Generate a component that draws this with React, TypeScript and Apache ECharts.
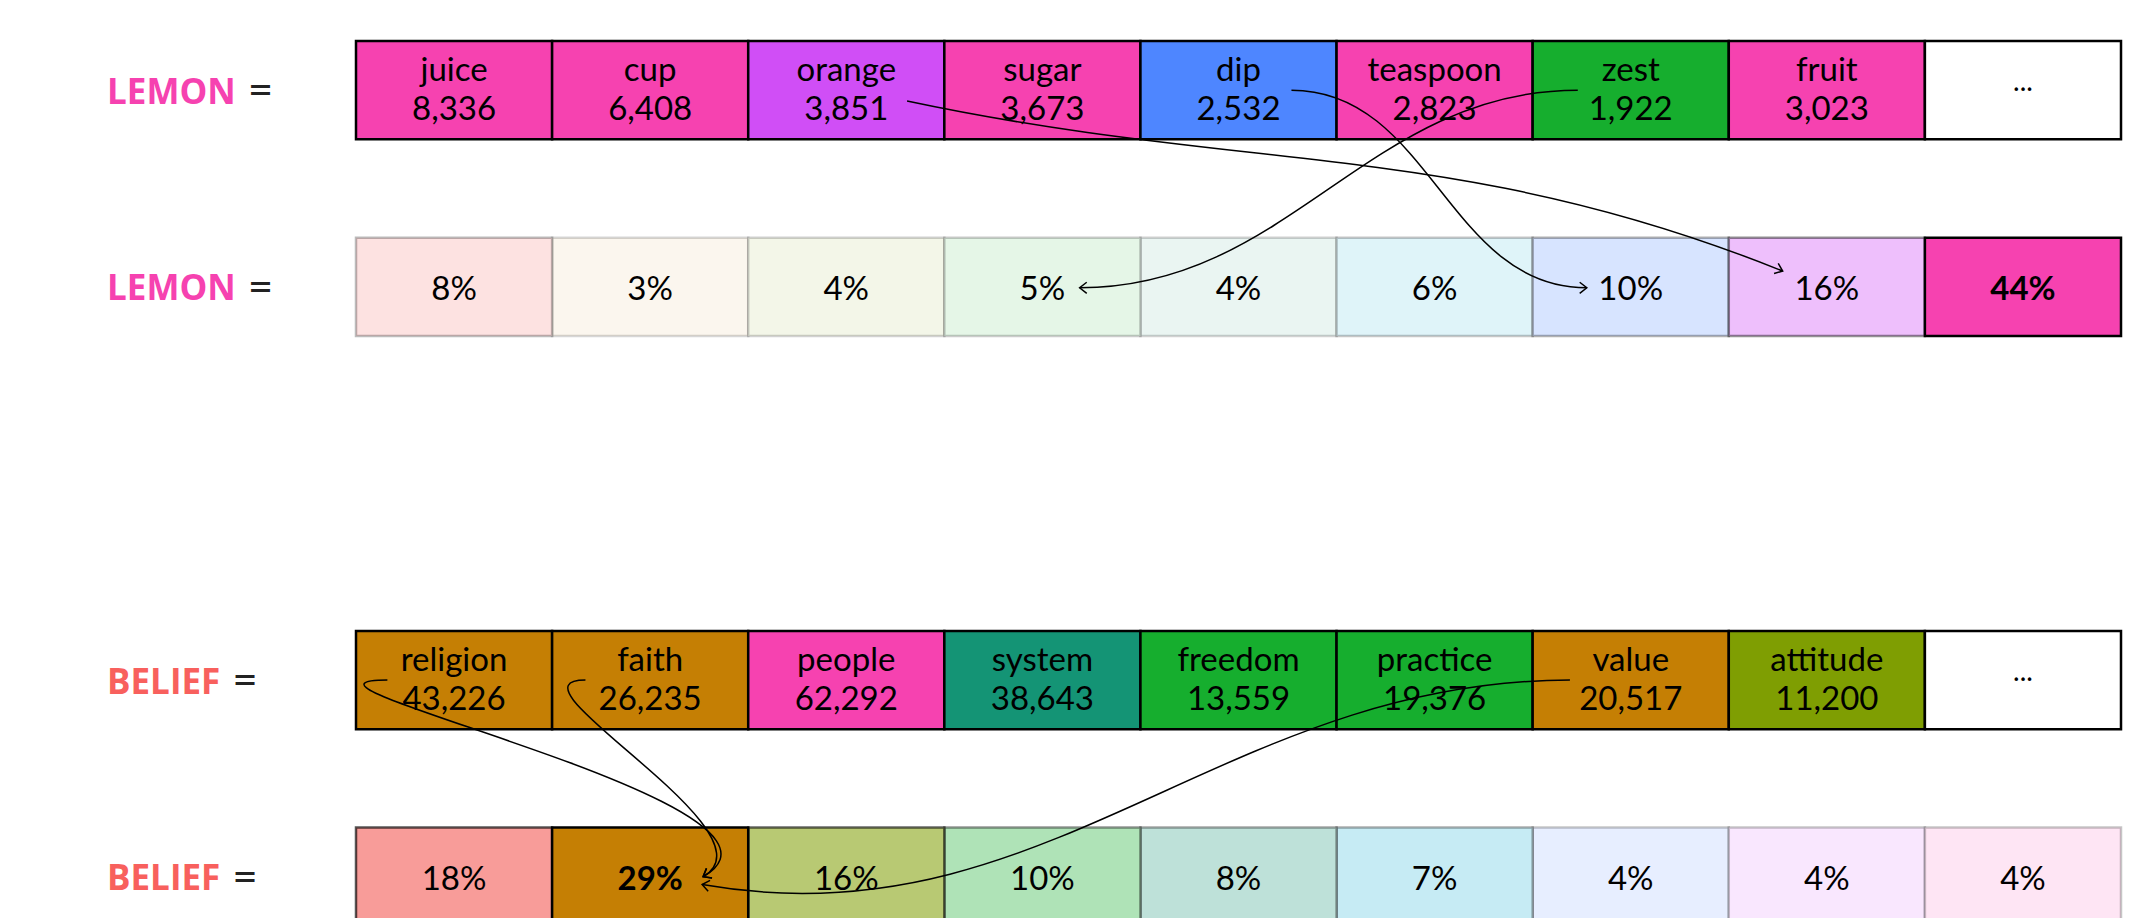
import React, { useEffect, useRef } from 'react';
import * as echarts from 'echarts';

// ---- data ----
const topicColors = ['#F45F5A', '#C57F04', '#7F9E02', '#16AE2E', '#149475', '#11ACD1', '#4E86FF', '#D04EF6', '#F642B0'];

const lemonWords = ['juice', 'cup', 'orange', 'sugar', 'dip', 'teaspoon', 'zest', 'fruit', '...'];
const lemonCounts = [8336, 6408, 3851, 3673, 2532, 2823, 1922, 3023, null];
const lemonWordTopics = [8, 8, 7, 8, 6, 8, 3, 8, null];
const lemonShares = [8, 3, 4, 5, 4, 6, 10, 16, 44];

const beliefWords = ['religion', 'faith', 'people', 'system', 'freedom', 'practice', 'value', 'attitude', '...'];
const beliefCounts = [43226, 26235, 62292, 38643, 13559, 19376, 20517, 11200, null];
const beliefWordTopics = [1, 1, 8, 4, 3, 3, 1, 2, null];
const beliefShares = [18, 29, 16, 10, 8, 7, 4, 4, 4];

const rowLabels = ['LEMON', 'LEMON', 'BELIEF', 'BELIEF'];
const rowLabelColors = ['#F642B0', '#F642B0', '#F8605D', '#F8605D'];

// word index -> share index
const lemonLinks = [[2, 7], [4, 6], [6, 3]];
const beliefLinks = [[0, 1], [1, 1], [6, 1]];

// ---- layout / style ----
const ROW_TOPS = [0, 2, 6, 8];
const FONT = 'Lato, "Open Sans", "DejaVu Sans", sans-serif';
const LABEL_FONT = '"Open Sans", Lato, sans-serif';

// anchor fractions inside cells and TikZ-like out/in angles
const linkGeometry = [
  { sx: 0.81, sy: 0.61, ex: 0.275, ey: 0.34, out: -12, inn: 158 },
  { sx: 0.77, sy: 0.5, ex: 0.276, ey: 0.51, out: 0, inn: 180 },
  { sx: 0.23, sy: 0.5, ex: 0.69, ey: 0.51, out: 180, inn: 0 },
  { sx: 0.16, sy: 0.5, ex: 0.77, ey: 0.5, out: 180, inn: 30 },
  { sx: 0.17, sy: 0.5, ex: 0.77, ey: 0.5, out: 180, inn: 30 },
  { sx: 0.19, sy: 0.5, ex: 0.765, ey: 0.58, out: 180, inn: -10 },
];

function mixWhite(hex: string, a: number) {
  const h = hex.replace('#', '');
  const r = parseInt(h.slice(0, 2), 16);
  const g = parseInt(h.slice(2, 4), 16);
  const b = parseInt(h.slice(4, 6), 16);
  const f = (c: number) => Math.round(255 - (255 - c) * a);
  return `rgb(${f(r)},${f(g)},${f(b)})`;
}

type Cell = { col: number; top: number; fill: string; stroke: string; lw: number; text: string; bold: boolean; dots: boolean; z: number };

function buildCells(): Cell[] {
  const cells: Cell[] = [];
  const wordRow = (words: string[], counts: (number | null)[], topics: (number | null)[], top: number) => {
    words.forEach((w, i) => {
      const t = topics[i];
      const c = counts[i];
      cells.push({
        col: i, top,
        fill: t == null ? '#ffffff' : topicColors[t],
        stroke: '#000000', lw: 2.5,
        text: c == null ? w : `${w}\n${c.toLocaleString('en-US')}`,
        bold: false, dots: c == null, z: 10,
      });
    });
  };
  const shareRow = (shares: number[], top: number) => {
    const max = Math.max(...shares);
    shares.forEach((s, i) => {
      const a = s / max;
      cells.push({
        col: i, top,
        fill: mixWhite(topicColors[i], a),
        stroke: `rgba(0,0,0,${(0.1 + 0.9 * a).toFixed(3)})`, lw: 2.5,
        text: `${s}%`, bold: s === max, dots: false, z: Math.round(a * 50),
      });
    });
  };
  wordRow(lemonWords, lemonCounts, lemonWordTopics, ROW_TOPS[0]);
  shareRow(lemonShares, ROW_TOPS[1]);
  wordRow(beliefWords, beliefCounts, beliefWordTopics, ROW_TOPS[2]);
  shareRow(beliefShares, ROW_TOPS[3]);
  return cells;
}

const cells = buildCells();
const links = [
  ...lemonLinks.map(([a, b]) => [a, ROW_TOPS[0], b, ROW_TOPS[1]]),
  ...beliefLinks.map(([a, b]) => [a, ROW_TOPS[2], b, ROW_TOPS[3]]),
];

export default function App() {
  const ref = useRef<HTMLDivElement>(null);
  useEffect(() => {
    document.body.style.margin = '0';
    const chart = echarts.init(ref.current!, null, { renderer: 'svg' });
    const option: any = {
      animation: false,
      backgroundColor: '#ffffff',
      grid: { left: 356, right: 8, top: 41, bottom: 0 },
      xAxis: { type: 'value', min: 0, max: 9, show: false },
      yAxis: { type: 'value', min: 0, max: 8.92, inverse: true, show: false },
      series: [
        {
          type: 'custom',
          name: 'cells',
          data: cells.map((c) => [c.col, c.top]),
          renderItem: (params: any, api: any) => {
            const c = cells[params.dataIndex];
            const p0 = api.coord([c.col, c.top]);
            const p1 = api.coord([c.col + 1, c.top + 1]);
            const isWord = c.text.indexOf('\n') >= 0;
            return {
              type: 'group',
              children: [
                {
                  type: 'rect',
                  z2: c.z,
                  shape: { x: p0[0], y: p0[1], width: p1[0] - p0[0], height: p1[1] - p0[1] },
                  style: { fill: c.fill, stroke: c.stroke, lineWidth: c.lw },
                },
                {
                  type: 'text',
                  z2: 200,
                  x: (p0[0] + p1[0]) / 2,
                  y: (p0[1] + p1[1]) / 2 + (c.dots ? -10 : isWord ? -3 : 0),
                  style: {
                    text: c.text,
                    fill: '#000000',
                    fontSize: c.dots ? 28 : 33,
                    fontFamily: FONT,
                    fontWeight: c.bold ? 'bold' : 'normal',
                    align: 'center',
                    verticalAlign: 'middle',
                    lineHeight: 39,
                  },
                },
              ],
            };
          },
        },
        {
          type: 'custom',
          name: 'labels',
          data: rowLabels.map((_, i) => [0, ROW_TOPS[i] + 0.5]),
          renderItem: (params: any, api: any) => {
            const i = params.dataIndex;
            const p = api.coord([0, ROW_TOPS[i] + 0.5]);
            return {
              type: 'text',
              x: p[0] - 249,
              y: p[1],
              style: {
                text: `{w|${rowLabels[i]}}{e|=}`,
                align: 'left',
                verticalAlign: 'middle',
                rich: {
                  w: { fontSize: 35, fontWeight: 'bold', fontFamily: LABEL_FONT, fill: rowLabelColors[i] },
                  e: { fontSize: 44, fontFamily: FONT, fill: '#222222', padding: [0, 0, 4, 12] },
                },
              },
            };
          },
        },
        {
          type: 'custom',
          name: 'links',
          z: 5,
          data: links,
          renderItem: (params: any, api: any) => {
            const g = linkGeometry[params.dataIndex];
            const fc = api.value(0), fr = api.value(1), tc = api.value(2), tr = api.value(3);
            const P0 = api.coord([fc + g.sx, fr + g.sy]);
            const P3 = api.coord([tc + g.ex, tr + g.ey]);
            const chord = Math.hypot(P3[0] - P0[0], P3[1] - P0[1]);
            const d = 0.3915 * chord;
            const ro = (g.out * Math.PI) / 180;
            const ri = (g.inn * Math.PI) / 180;
            const C1 = [P0[0] + d * Math.cos(ro), P0[1] - d * Math.sin(ro)];
            const C2 = [P3[0] + d * Math.cos(ri), P3[1] - d * Math.sin(ri)];
            // back direction (from tip towards the curve)
            const bx = Math.cos(ri), by = -Math.sin(ri);
            const len = 9, al = (38 * Math.PI) / 180;
            const wing = (s: number) => {
              const ca = Math.cos(s * al), sa = Math.sin(s * al);
              return [P3[0] + len * (bx * ca - by * sa), P3[1] + len * (bx * sa + by * ca)];
            };
            return {
              type: 'group',
              children: [
                {
                  type: 'bezierCurve',
                  shape: { x1: P0[0], y1: P0[1], cpx1: C1[0], cpy1: C1[1], cpx2: C2[0], cpy2: C2[1], x2: P3[0], y2: P3[1] },
                  style: { stroke: '#000000', lineWidth: 1.5, fill: null },
                },
                {
                  type: 'polyline',
                  shape: { points: [wing(1), P3, wing(-1)] },
                  style: { stroke: '#000000', lineWidth: 1.5, fill: null },
                },
              ],
            };
          },
        },
      ],
    };
    chart.setOption(option);
    return () => chart.dispose();
  }, []);
  return <div ref={ref} style={{ width: 2129, height: 918 }} />;
}
